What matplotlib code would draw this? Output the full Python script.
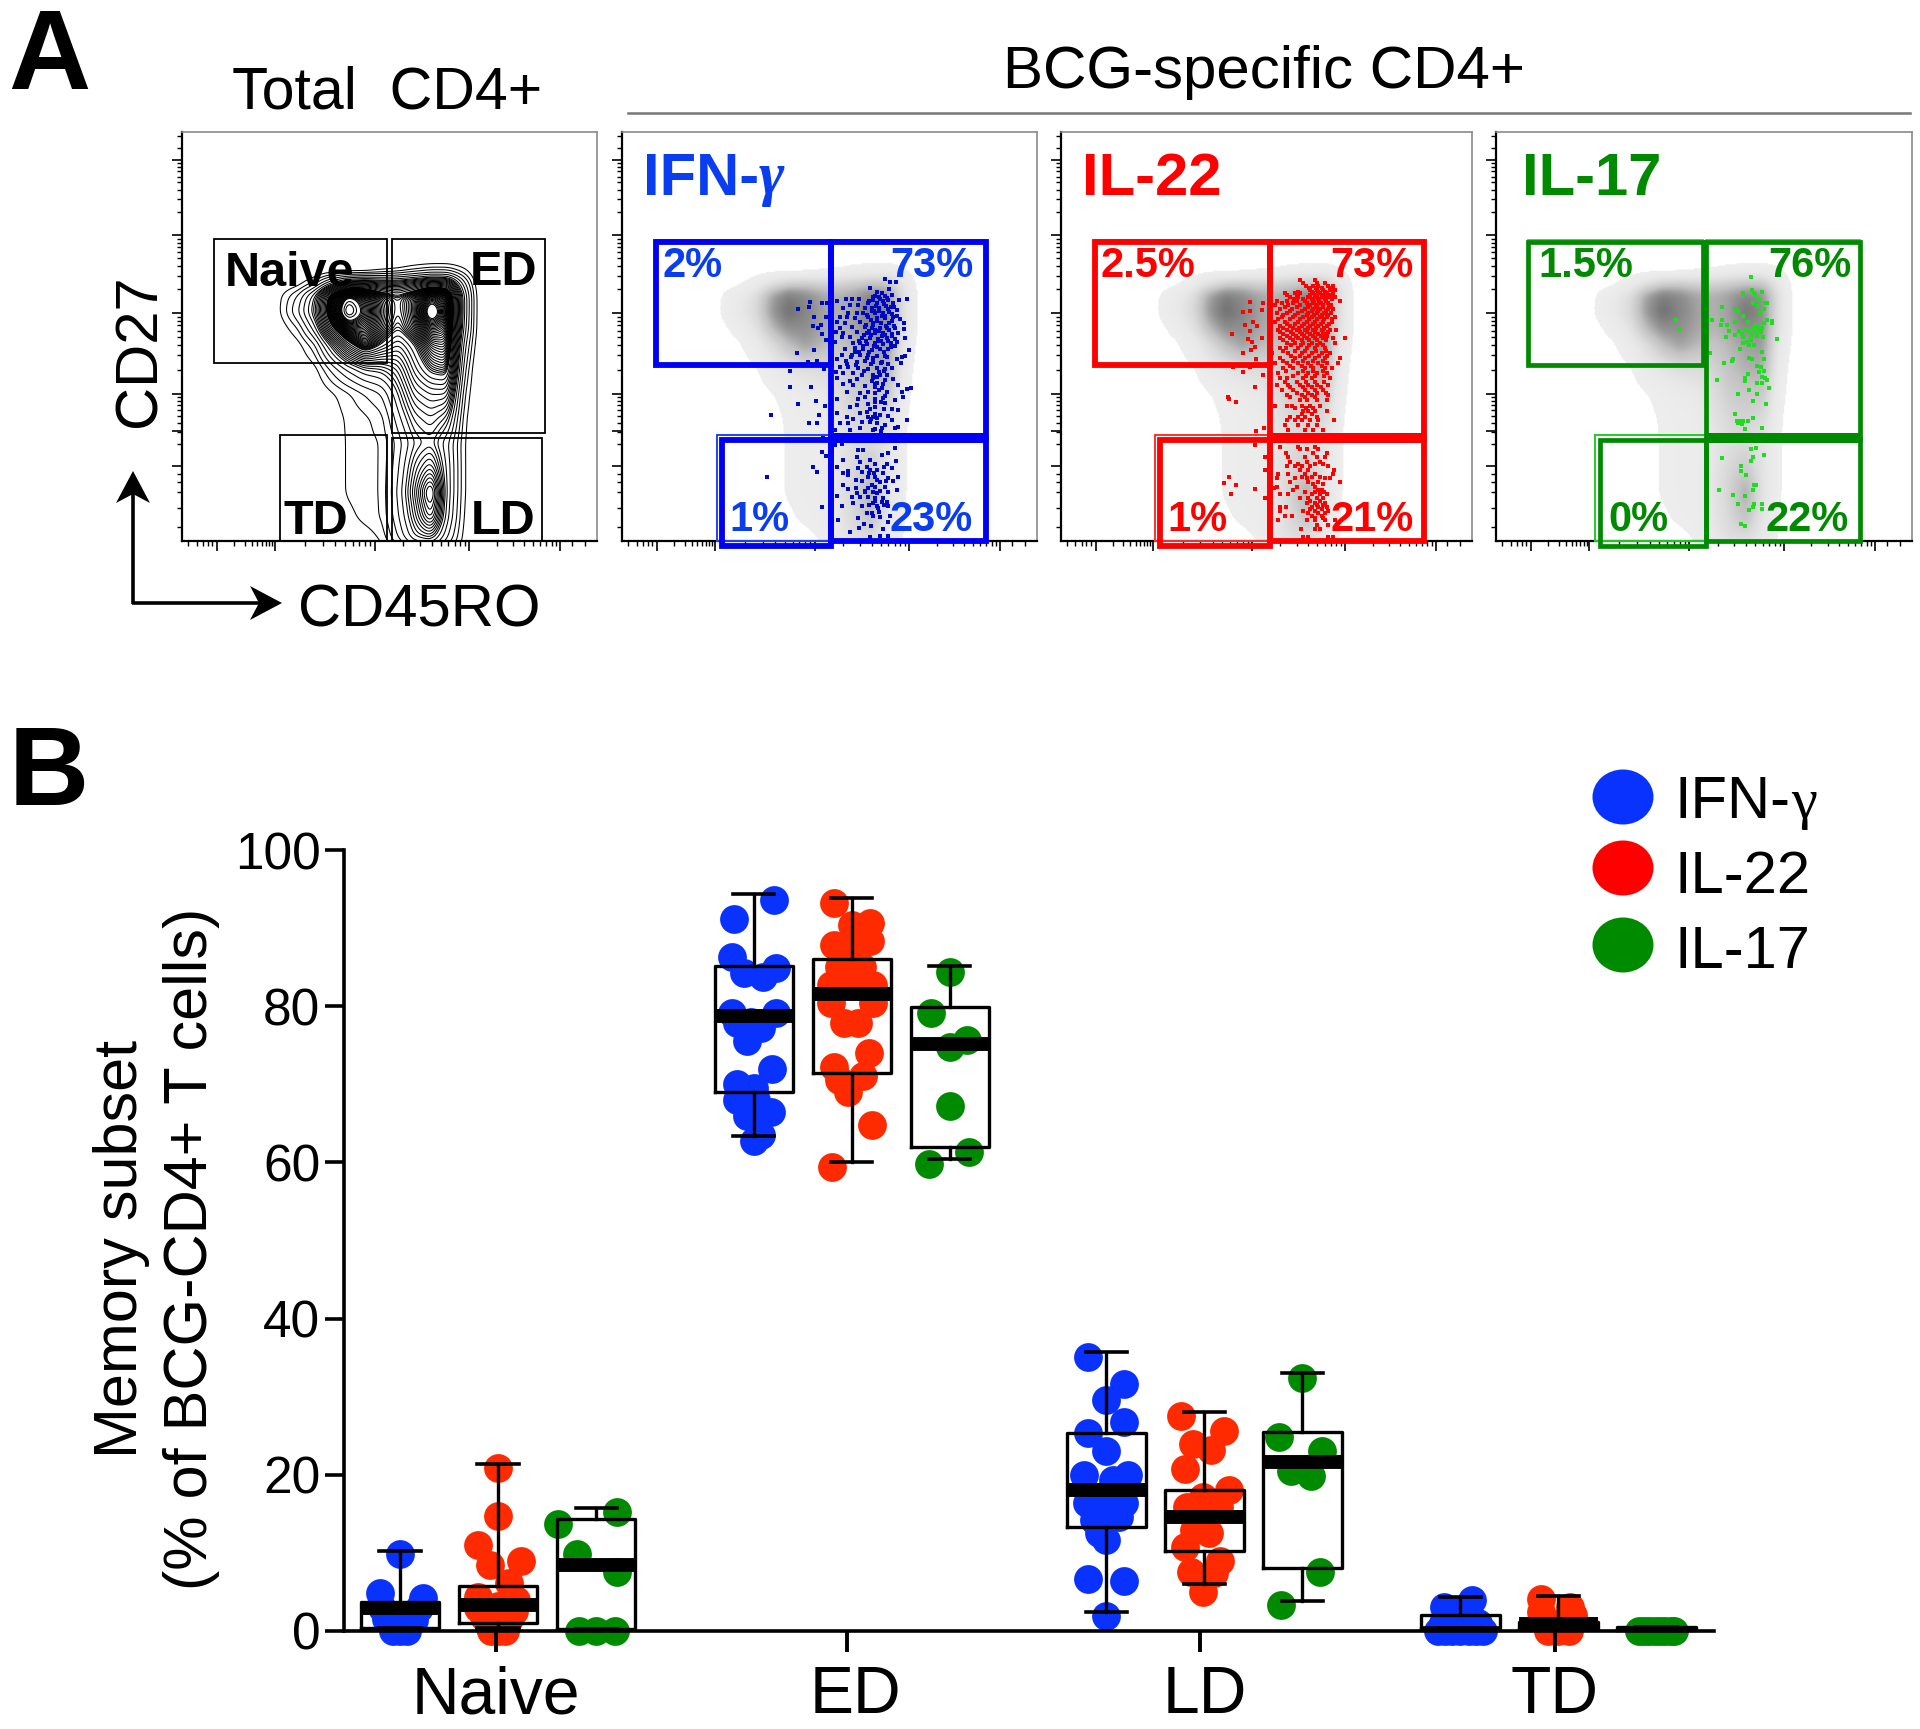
import numpy as np
import matplotlib
matplotlib.use('Agg')
import matplotlib.pyplot as plt
from matplotlib.patches import Rectangle, Ellipse, Polygon
from matplotlib.transforms import ScaledTranslation

plt.rcParams['font.family'] = ['Liberation Sans', 'DejaVu Sans']

W, H = 1920, 1729
DPI = 100

# ---------------- Panel B data ----------------
groups = ['Naive', 'ED', 'LD', 'TD']
series = ['IFN-γ', 'IL-22', 'IL-17']
y_ticks = [0, 20, 40, 60, 80, 100]

# (horizontal jitter, percent)
naive_ifn = [(0, 9.9), (-.056, 4.9), (.064, 4.2), (-.05, 3), (.055, 3), (-.03, 2), (.03, 2), (-.04, 1.5), (.04, 1.4), (-.02, .8), (.02, .8), (-.02, 0), (0, 0), (.02, 0)]
naive_il22 = [(0, 20.9), (0, 14.7), (-.057, 11), (-.023, 8.4), (.065, 8.9), (.03, 6.1), (-.057, 4.4), (.05, 4), (-.058, 3), (0, 3.2), (.045, 2.6), (-.04, 1.8), (.03, 1.5), (-.025, .6), (.015, .6), (-.02, 0), (0, 0), (.02, 0)]
naive_il17 = [(.059, 15.2), (-.108, 13.7), (-.054, 9.8), (.059, 7.5), (-.05, 0), (0, 0), (.054, 0)]
ed_ifn = [(.056, 93.6), (-.055, 91.2), (-.062, 86.3), (.062, 84.9), (-.027, 84.2), (.027, 83.8), (-.062, 79.1), (.062, 79.1), (-.048, 77.8), (.02, 77.2), (-.018, 75.6), (-.007, 78), (.052, 72), (-.048, 70.1), (0, 69.5), (-.048, 68), (.048, 66.5), (-.02, 65.9), (.02, 63.5), (0, 62.7), (.007, 68)]
ed_il22 = [(-.051, 93.2), (.052, 90.6), (0, 90.4), (.052, 88.3), (-.051, 87.8), (0, 88), (-.037, 85), (.03, 85), (0, 85), (-.058, 82.7), (.059, 82.7), (-.01, 82.7), (-.058, 80.4), (.059, 80.4), (-.023, 77.8), (.018, 77.8), (.05, 74), (-.051, 72.2), (.032, 71), (-.037, 70.5), (-.01, 69), (.056, 64.8), (-.055, 59.4)]
ed_il17 = [(0, 84.4), (-.052, 79.1), (.048, 75.7), (0, 74.8), (0, 67.2), (.055, 61.3), (-.058, 59.8)]
ld_ifn = [(-.053, 35.1), (.05, 31.6), (0, 29.6), (.05, 26.7), (-.053, 25.4), (0, 23), (-.063, 20), (.06, 20), (.02, 19.3), (-.055, 16.4), (.05, 16.4), (0, 16.8), (-.035, 14.2), (.035, 14.6), (0, 14.6), (-.022, 12.5), (0, 11.7), (-.053, 6.7), (.05, 6.4), (0, 1.9)]
ld_il22 = [(-.066, 27.5), (.056, 25.6), (-.033, 24), (.02, 23.2), (-.056, 20.7), (.07, 18.1), (-.005, 17.2), (-.05, 15.9), (.04, 15.9), (-.005, 14.4), (-.03, 12.9), (.014, 12.6), (-.056, 10.8), (.045, 8.9), (-.037, 7.6), (.027, 7.4), (-.005, 5)]
ld_il17 = [(0, 32.4), (-.066, 24.9), (.056, 23), (-.032, 20.5), (.023, 19.8), (.05, 7.5), (-.06, 3.3)]
td_ifn = [(.032, 4), (-.047, 3.1), (0, 2.5), (-.065, 0), (-.045, 0), (-.025, 0), (0, 0), (.025, 0), (.045, 0), (.065, 0), (-.05, 1), (.05, 1)]
td_il22 = [(-.05, 4.1), (.034, 3.1), (-.05, 2.4), (.04, 2), (-.03, 0), (0, 0), (.03, 0), (-.02, 1), (.02, 1)]
td_il17 = [(-.05, 0), (-.035, 0), (-.02, 0), (-.005, 0), (.01, 0), (.025, 0), (.04, 0), (.05, 0)]
dot_sets = [naive_ifn, naive_il22, naive_il17, ed_ifn, ed_il22, ed_il17,
            ld_ifn, ld_il22, ld_il17, td_ifn, td_il22, td_il17]

# whisker low, box low, median, box high, whisker high
box_low = [.4, 1.06, .3, 69.0, 71.5, 62, 13.3, 10.2, 8.1, .35, .3, .1]
box_med = [2.9, 3.3, 8.4, 78.7, 81.5, 75.2, 18.1, 14.6, 21.7, .35, .9, .3]
box_high = [3.75, 5.7, 14.3, 85.2, 86.0, 79.9, 25.4, 18.0, 25.5, 2, 1.1, .5]
whisk_low = [.4, .4, .3, 63.4, 60.0, 60.4, 2.4, 6.0, 3.8, .35, .3, .1]
whisk_high = [10.3, 21.4, 15.8, 94.4, 93.9, 85.1, 35.7, 28.1, 33, 4.4, 4.5, .5]

# ---------------- Panel A data ----------------
# hand-read population density over the CD45RO / CD27 plot area (percent of plot)
dens_x = [18, 22, 24, 28, 32, 36, 40, 44, 48, 52, 56, 60, 64, 68, 71, 75]
dens_y = [-2, 1, 6, 12, 18, 24, 30, 36, 42, 48, 52, 56, 60, 63, 66, 69]
dens = [
 [0, 0, 0, 0, 0, 0, 0, 0, .3, 1.0, 1.8, 1.8, 1.0, .2, 0, 0],
 [0, 0, 0, 0, 0, 0, 0, .2, .6, 1.8, 3.2, 3.6, 1.8, .3, 0, 0],
 [0, 0, 0, 0, 0, 0, .3, .7, .9, 2.2, 3.8, 5.6, 2.4, .4, 0, 0],
 [0, 0, 0, 0, 0, 0, .6, .8, .9, 2.4, 4.2, 6.6, 2.6, .5, 0, 0],
 [0, 0, 0, 0, 0, 0, .6, .8, .9, 2.2, 3.8, 4.8, 2.6, .5, 0, 0],
 [0, 0, 0, 0, 0, 0, .6, .8, .9, 2.0, 3.2, 3.6, 2.4, .5, 0, 0],
 [0, 0, 0, 0, 0, .2, .6, .8, 1.1, 2.6, 3.8, 4.2, 3.6, .6, 0, 0],
 [0, 0, 0, 0, 0, .4, .8, 1.3, 1.8, 3.2, 4.6, 5.0, 5.0, .9, 0, 0],
 [0, 0, 0, 0, .3, 1.4, 2.4, 3.2, 3.4, 4.0, 5.4, 6.2, 6.4, 1.4, 0, 0],
 [0, 0, 0, .3, 1.2, 3.4, 5.6, 7.0, 6.0, 5.2, 6.0, 7.0, 7.2, 2.0, .2, 0],
 [0, 0, .2, .9, 2.6, 5.8, 7.8, 7.8, 6.8, 6.0, 6.8, 8.0, 7.6, 2.6, .3, 0],
 [0, .1, .6, 1.8, 3.6, 7.2, 9.8, 8.4, 7.0, 6.2, 7.0, 9.4, 7.8, 2.8, .3, 0],
 [0, .1, .5, 1.4, 3.2, 6.8, 8.8, 8.0, 6.8, 6.2, 7.0, 8.2, 7.6, 2.8, .3, 0],
 [0, 0, 0, .2, 1.0, 2.8, 4.2, 4.6, 4.2, 4.2, 4.6, 5.2, 5.0, 2.0, .2, 0],
 [0, 0, 0, 0, 0, 0, 0, 0, .3, .5, .9, 1.2, 1.2, .6, 0, 0],
 [0, 0, 0, 0, 0, 0, 0, 0, 0, 0, 0, 0, 0, 0, 0, 0],
]

ifn_x_read = [115,150,148,185,163,158,183,175,187,197,110,162,172,143,192,90,90,153,115,168,196,33,177,148,172,187,197,158,172,22,187,190,197,210,200,
 375,390,407,330,388,352,365,345,375,395,258,275,297,230,418,442,340,360,385,270,295,325,350,372,400,250,315,335,358,385,410,265,290,310,345,368,395,240,262,285,325,350,375,400,420,230,255,300,340,362,388,432,240,275,315,335,360,380,405,432,228,250,290,320,345,370,395,415,245,270,305,330,355,380,405,435,225,280,300,320,345,368,392,410,255,285,310,335,360,385,447,245,275,300,325,350,375,425,435,232,258,290,315,340,365,385,422,240,265,295,325,350,375,395,228,250,280,305,340,360,380,230,270,290,335,350,375,400,250,280,315,345,365,415,262,300,325,345,380,452,440,425,230,295,315,345,370,405,430,270,290,325,345,375,395,415,230,300,320,345,385,260,278,325,360,395,240,265,305,330,350,375,415,442,225,270,300,340,365,405,
 225,245,295,310,365,385,405,290,330,408,248,300,345,230,380,395,295,330,350,265,250,265,305,370,415,325,345,385,288,305,360,400,335,345,250,265,288,325,375,410,290,315,350,385,230,275,300,325,345,370,280,340,380,245,305,355,385,320,340,360,295,390,235,385,270,297,312,333,370,330,360,383,
 338,358,382,328,348,368,392,336,356,378,402,322,342,366,388,412,332,352,376,396,318,338,358,378,402,326,346,366,388,312,332,354,374,396,296,318,342,362,384,404,286,308,328,352,372,394,272,298,320,340,362,380,412,262,288,312,332,356,372,338,352,368,344,358,374,316,346,362,330,372,338,352,332,346,362,322,342,372,328,352,378,316,338,360,346,366,326,350,372,336,358]
ifn_y_read = [147,127,142,130,170,198,195,205,222,240,280,270,302,307,327,332,380,380,432,423,437,465,465,490,490,575,588,622,636,651,741,533,170,135,130,
 57,65,65,85,88,95,100,108,108,105,118,118,118,122,120,118,120,118,120,135,135,130,130,132,130,145,145,145,145,148,150,158,160,160,160,160,162,172,172,175,172,175,175,172,178,185,188,185,188,190,188,190,205,200,200,205,205,205,205,208,215,218,215,218,220,220,222,220,232,232,235,235,238,235,238,235,245,248,250,252,250,252,250,245,268,265,268,270,268,268,270,285,285,285,285,288,288,290,288,298,302,305,302,305,305,312,310,320,322,325,328,325,328,325,335,340,340,345,345,345,345,355,362,358,362,368,360,358,372,375,378,382,385,375,395,400,395,400,395,383,388,397,417,418,412,418,415,420,412,440,435,432,440,430,448,450,460,458,455,462,468,470,478,470,465,480,490,490,485,485,490,495,500,480,510,510,505,510,505,505,
 555,552,570,570,585,578,565,590,600,602,600,605,612,622,612,625,625,630,630,632,640,645,635,640,650,650,650,655,660,662,665,662,675,680,675,688,685,685,680,690,700,695,700,695,708,710,710,712,715,715,730,730,725,738,738,745,738,760,768,772,773,768,780,785,817,805,793,798,808,832,828,828,
 112,110,113,124,138,122,140,152,154,137,141,166,153,167,155,167,181,182,168,183,196,194,212,197,197,212,211,228,211,226,226,242,226,228,243,244,258,242,243,258,276,258,276,260,277,260,292,276,293,294,310,292,296,312,314,332,312,335,332,353,352,372,371,390,408,410,426,425,446,448,472,475,478,508,512,620,640,620,640,660,662,692,695,692,723,725,735,738,735,758,755]

il22_rows = {60: [300,345], 68: [310,350,375], 78: [318,340,355,385,400], 90: [330,350,370,390,405], 100: [255,285,300,340,360,380,400],
 112: [270,295,325,345,365,385,405], 122: [230,260,290,315,340,358,378,420], 135: [225,265,300,330,350,370,392], 148: [240,275,315,340,360,385,400],
 160: [232,262,295,325,350,372,392], 172: [245,280,310,335,360,380,405], 185: [225,255,295,320,345,370,395], 198: [240,270,305,330,355,380],
 210: [235,260,290,315,340,365,390,408], 222: [250,280,305,330,355,375], 235: [240,270,295,320,345,370,400,435], 248: [260,285,310,335,360,405],
 265: [240,258,295,320,345,375], 280: [215,265,305,335,365,390], 295: [240,285,315,345,375,420], 310: [225,262,295,325,355,380,415],
 325: [250,280,315,340,375,395], 340: [235,295,325,350,380], 355: [240,262,310,335,390], 375: [230,265,300,325,350,385], 390: [245,280,315,345,370],
 405: [260,305,335,385], 420: [300,320,350,380], 437: [225,262,275,305,330,360], 452: [310,325,345,380], 470: [270,295,315,350],
 480: [262,285,305,330,355,402], 495: [255,295,325,352], 510: [265,315,340,370], 560: [240,295,345], 568: [300,320,355], 580: [258,340,380],
 592: [265,315,350,375], 605: [270,320,360], 618: [260,285,305,330,385], 630: [300,325,402], 642: [235,265,315,345,400], 655: [230,285,320,375,390],
 665: [270,325,355,420], 680: [230,290,345], 690: [280,355,365], 703: [240,265,335,360,380], 715: [300,325,350,370], 728: [320,345,375],
 740: [240,258,335,355,380], 752: [240,310,345,385], 768: [255,275,335,365], 780: [235,320,345,375,405], 795: [350,385], 808: [302,345,360],
 830: [310,325,385,400],
 # second reading, between the rows above
 84: [328,348,366,392], 95: [295,335,355,375,398], 106: [262,290,330,352,372,392], 117: [282,308,335,355,375,395], 129: [245,280,322,342,362,385],
 141: [255,290,325,348,368,388], 154: [270,305,335,355,378], 166: [250,285,320,342,365,385], 178: [235,270,300,328,352,372,395], 191: [262,285,312,338,362,388],
 204: [250,280,298,325,348,372], 216: [240,272,300,322,345,368,385], 228: [262,288,312,340,362,382], 241: [250,278,305,328,352,378], 256: [272,302,328,352,368],
 272: [250,285,315,348,378], 288: [272,300,328,358,382], 303: [248,278,308,340,368], 318: [270,305,332,365], 333: [258,310,340,368], 348: [280,318,345,372],
 366: [255,290,318,345,372], 382: [270,308,335,362], 398: [290,325,352,378], 412: [270,315,345], 445: [285,318,338], 462: [305,335],
 612: [295,345,368], 650: [305,335,360], 672: [340,368], 696: [315,345,372], 722: [330,360], 734: [350,368], 746: [330,365], 760: [325,355,375], 774: [345,368]}
il22_x_left = [130,150,150,190,185,160,135,172,150,97,145,187,157,165,152,130,168,100,150,130,190,165,83,88,107,193,168,165,87,73,107,165,93,195,195,195,222]
il22_y_left = [155,127,152,130,150,185,195,197,212,222,237,235,245,262,270,280,298,322,322,337,345,380,412,418,427,505,512,556,650,670,675,688,703,715,630,590,685]

il17_x_read = [333,335,310,343,367,345,358,338,375,382,353,247,285,372,295,360,310,217,247,285,323,372,382,397,397,242,262,348,340,355,367,266,298,315,328,348,362,285,305,335,350,257,310,368,332,411,310,320,328,343,300,367,210,328,336,372,280,275,252,352,362,372,357,324,367,375,315,315,232,382,352,367,387,328,295,352,338,377,285,338,325,290,300,310,295,305,367,314,348,333,338,372,247,334,304,304,319,343,349,338,237,280,314,295,343,367,338,328,367,304,314,107,117]
il17_y_read = [52,90,100,98,95,105,120,128,128,128,138,142,147,147,155,160,167,180,180,185,185,190,180,183,190,195,195,195,205,207,205,213,213,210,212,215,215,225,222,225,228,232,232,232,240,237,248,245,255,255,266,275,280,295,298,298,298,303,308,317,322,333,337,342,350,355,355,362,360,360,370,370,384,390,403,403,423,432,461,474,482,482,482,483,490,492,503,508,563,566,590,585,594,604,618,632,646,675,675,689,689,704,708,732,732,732,741,751,746,793,798,180,208]

# ---------------- helpers ----------------
fig = plt.figure(figsize=(W / DPI, H / DPI), dpi=DPI, facecolor='white')


def pxrect(l, t, r, b):
    return [l / W, 1 - b / H, (r - l) / W, (b - t) / H]


def smooth_grid():
    xf = np.linspace(dens_x[0], dens_x[-1], 230)
    yf = np.linspace(dens_y[0], dens_y[-1], 230)
    g = np.array(dens, float)
    a = np.array([np.interp(xf, dens_x, row) for row in g])
    b = np.array([np.interp(yf, dens_y, col) for col in a.T]).T
    t = np.arange(-9, 10)
    k = np.exp(-t**2 / (2 * 3.2**2))
    k /= k.sum()
    pad = 9
    c = np.pad(b, pad, mode='edge')
    c = np.apply_along_axis(lambda v: np.convolve(v, k, mode='same'), 0, c)
    c = np.apply_along_axis(lambda v: np.convolve(v, k, mode='same'), 1, c)
    return xf, yf, c[pad:-pad, pad:-pad]


XF, YF, ZF = smooth_grid()


def style_flow(ax):
    ax.set_xlim(0, 100)
    ax.set_ylim(0, 100)
    for s in ('top', 'right'):
        ax.spines[s].set_color('#8a8a8a')
        ax.spines[s].set_linewidth(1.2)
    for s in ('left', 'bottom'):
        ax.spines[s].set_color('black')
        ax.spines[s].set_linewidth(1.6)
    xM = [8.4, 22.4, 46.5, 69.2, 91.2]
    yM = [18.4, 35.9, 55.8, 74.8, 93.2]
    dec = np.log10(np.arange(2, 10))
    xm = [lo + d * (hi - lo) for lo, hi in zip(xM[:-1], xM[1:]) for d in dec] + [1.5, 3.5, 5, 6.2, 7.2, 94, 97]
    ym = [lo + d * (hi - lo) for lo, hi in zip(yM[:-1], yM[1:]) for d in dec] + [3.5, 8, 12, 14.5, 16.5, 96, 99]
    ax.set_xticks(xM)
    ax.set_yticks(yM + [26.9])
    ax.set_xticks(xm, minor=True)
    ax.set_yticks(ym, minor=True)
    ax.tick_params(which='major', length=7, width=1.2, labelbottom=False, labelleft=False)
    ax.tick_params(which='minor', length=3.5, width=1)


def gray_layer(ax):
    rgba = np.zeros(ZF.shape + (4,))
    g = np.interp(ZF, [.45, .7, 2, 3.5, 5.5, 7.5, 9.5], [.93, .93, .91, .86, .76, .58, .45])
    rgba[..., 0] = rgba[..., 1] = rgba[..., 2] = g
    rgba[..., 3] = (ZF > .45).astype(float)
    ax.imshow(rgba, extent=(XF[0], XF[-1], YF[0], YF[-1]), origin='lower', aspect='auto', interpolation='bilinear', zorder=1)
    ax.set_xlim(0, 100)
    ax.set_ylim(0, 100)


def gates(ax, col, lw, tl, tr, bl, y_top, y_mid, y_low, fade):
    for x0, x1, y0, y1 in [(tl[0], tl[1], y_low, y_top), (tr[0], tr[1], y_mid, y_top),
                           (bl[0], bl[1], -1.2, y_mid - .4), (tr[0], tr[1], 0, y_mid)]:
        ax.add_patch(Rectangle((x0, y0), x1 - x0, y1 - y0, fill=False, ec=col, lw=lw, clip_on=False, zorder=4))
    ax.add_patch(Rectangle((tr[0], y_mid - 1.1), tr[1] - tr[0], 2.4, fc=col, ec='none', clip_on=False, zorder=4))
    ax.add_patch(Rectangle((bl[0] - 1.2, 0), bl[1] - bl[0] + 1.2, y_mid + 1.0, fill=False, ec=fade, lw=1.4, clip_on=False, zorder=3))
    ax.add_patch(Rectangle((tl[0], y_low), tl[1] - tl[0], y_top + .5 - y_low, fill=False, ec=fade, lw=1.2, clip_on=False, zorder=3))
    ax.add_patch(Rectangle((tr[0], y_mid), tr[1] - tr[0], y_top + .5 - y_mid, fill=False, ec=fade, lw=1.2, clip_on=False, zorder=3))


# ---------------- Panel A ----------------
P_TOP, P_BOT = 132, 541
ax1 = fig.add_axes(pxrect(182, P_TOP, 597, P_BOT))
lv = np.concatenate([[.5, .9, 1.3, 1.8, 2.3, 2.8], np.linspace(3.2, 6, 12), np.linspace(6.1, 8.6, 30), [8.9, 9.1, 9.3]])
ax1.contour(XF, YF, ZF, levels=lv, colors='black', linewidths=.75, zorder=2)
style_flow(ax1)
for x0, x1, y0, y1 in [(7.6, 49.4, 43.5, 73.9), (50.6, 87.4, 26.4, 73.9), (23.5, 49.4, 0, 25.8), (50.6, 86.8, 0, 25.2)]:
    ax1.add_patch(Rectangle((x0, y0), x1 - x0, y1 - y0, fill=False, ec='black', lw=1.3, zorder=3))

ax2 = fig.add_axes(pxrect(622, P_TOP, 1037, P_BOT))
gray_layer(ax2)
style_flow(ax2)
ax2.scatter((760 + np.array(ifn_x_read) / 3 - 622) / 415 * 100, (P_BOT - 260 - np.array(ifn_y_read) / 3) / 409 * 100,
            s=7, marker='s', c='#0008C8', linewidths=0, zorder=2, clip_on=False)
gates(ax2, '#0000F5', 4.2, (8.2, 50.3), (50.3, 87.6), (24, 50.3), 73, 25, 43, '#2040FF')

ax3 = fig.add_axes(pxrect(1061, P_TOP, 1472, P_BOT))
gray_layer(ax3)
style_flow(ax3)
rows_x = [x for yy, xs in il22_rows.items() for x in xs] + il22_x_left
rows_y = [yy for yy, xs in il22_rows.items() for x in xs] + il22_y_left
ax3.scatter((1200 + np.array(rows_x) / 3 - 1061) / 411 * 100, (P_BOT - 260 - np.array(rows_y) / 3) / 409 * 100,
            s=11, marker='s', c='#FF0000', linewidths=0, zorder=2, clip_on=False)
gates(ax3, '#FF0000', 4.2, (8.3, 50.9), (50.9, 88.4), (24, 50.9), 73, 25, 43, '#FF3030')

ax4 = fig.add_axes(pxrect(1496, P_TOP, 1912, P_BOT))
gray_layer(ax4)
style_flow(ax4)
ax4.scatter((1640 + np.array(il17_x_read) / 3 - 1496) / 416 * 100, (P_BOT - 260 - np.array(il17_y_read) / 3) / 409 * 100,
            s=7, marker='s', c='#20DC20', linewidths=0, zorder=2, clip_on=False)
gates(ax4, '#008A00', 3.4, (7.8, 49.7), (50.6, 87.4), (25, 50.6), 73.2, 25, 43.1, '#22CC22')

# ---------------- Panel B ----------------
axb = fig.add_axes(pxrect(344, 850, 1714, 1631))
colors = ['#0A32FF', '#FF2A00', '#008A00']
centers = [1.007, 2.01, 3.01, 4.014]
slot = [-.278, 0, .278]
pos = [c + s for c in centers for s in slot]

stats = [dict(med=m, q1=l, q3=h, whislo=wl, whishi=wh, fliers=[])
         for m, l, h, wl, wh in zip(box_med, box_low, box_high, whisk_low, whisk_high)]
for i, pts in enumerate(dot_sets):
    d = np.array(pts)
    axb.scatter(pos[i] + d[:, 0], d[:, 1], s=430, color=colors[i % 3], linewidths=0, zorder=1, clip_on=False)
art = axb.bxp(stats, positions=pos, widths=.222, capwidths=.117, showfliers=False, manage_ticks=False, zorder=3,
              boxprops=dict(color='black', lw=2.4), whiskerprops=dict(color='black', lw=2.4),
              capprops=dict(color='black', lw=2.6), medianprops=dict(color='black', lw=10, solid_capstyle='butt'))
art['medians'][9].set_linewidth(2.6)
art['medians'][11].set_linewidth(3.2)
for a in art['boxes'] + art['whiskers'] + art['caps'] + art['medians']:
    a.set_clip_on(False)
axb.set_xlim(.57, 4.455)
axb.set_ylim(0, 100)
axb.set_xticks([1, 1.997, 2.997, 4.003])
axb.set_xticklabels(groups, fontsize=47.5)
axb.set_yticks(y_ticks)
axb.set_yticklabels([str(v) for v in y_ticks], fontsize=37)
axb.tick_params(axis='y', length=14, width=2.6, pad=3)
axb.tick_params(axis='x', length=15, width=2.8, pad=9.5)
for lab, dx in zip(axb.get_xticklabels(), [0, 8.5, 5, 0]):
    lab.set_transform(lab.get_transform() + ScaledTranslation(dx / DPI, 0, fig.dpi_scale_trans))
for s in ('top', 'right'):
    axb.spines[s].set_visible(False)
for s in ('left', 'bottom'):
    axb.spines[s].set_linewidth(2.6)
    axb.spines[s].set_zorder(4)
axb.patch.set_alpha(0)

# ---------------- overlay text ----------------
ov = fig.add_axes([0, 0, 1, 1], zorder=10)
ov.set_xlim(0, W)
ov.set_ylim(H, 0)
ov.axis('off')
ov.patch.set_alpha(0)


def T(x, y, s, size, ha='left', va='center', color='black', weight='normal', **kw):
    return ov.text(x, y, s, fontsize=size, ha=ha, va=va, color=color, fontweight=weight, **kw)


T(49, 60, 'A', 82, ha='center', weight='bold')
T(49, 776, 'B', 80, ha='center', weight='bold')
T(387, 93, 'Total  CD4+', 42.5, ha='center')
T(1264, 72, 'BCG-specific CD4+', 43.3, ha='center')
ov.plot([628, 1910], [113, 113], color='#777777', lw=1.8)
T(140, 351, 'CD27', 43, ha='center', rotation=90)
T(298, 611, 'CD45RO', 43)
# arrows: shaft plus barbed head
ov.plot([133, 133], [604, 490], color='black', lw=2.6, solid_capstyle='butt')
ov.plot([132, 265], [603, 603], color='black', lw=2.6, solid_capstyle='butt')
ov.add_patch(Polygon([(133, 471), (150, 503), (133, 494), (116, 503)], fc='black', ec='none'))
ov.add_patch(Polygon([(282, 603), (250, 620), (259, 603), (250, 586)], fc='black', ec='none'))

T(225, 273, 'Naive', 35, weight='bold')
T(537, 272, 'ED', 35, ha='right', weight='bold')
T(284, 521, 'TD', 35, weight='bold')
T(535, 521, 'LD', 35, ha='right', weight='bold')


def greek_after(txt, size, color, weight, style):
    ov.annotate('γ', xy=(1, 0), xycoords=txt, xytext=(0, 0), textcoords='offset points', va='bottom', ha='left',
                fontsize=size, color=color, fontweight=weight, family='Liberation Serif', fontstyle=style)


BLUE_T, RED_T, GREEN_T = '#0A3CF0', '#FF0000', '#008A00'
t = T(643, 179, 'IFN-', 43, color=BLUE_T, weight='bold')
greek_after(t, 44, BLUE_T, 'bold', 'italic')
T(1082, 179, 'IL-22', 43, color=RED_T, weight='bold')
T(1522, 179, 'IL-17', 43, color=GREEN_T, weight='bold')

for x, y, s, ha, c in [(662, 266, '2%', 'left', BLUE_T), (973, 266, '73%', 'right', BLUE_T), (729, 520, '1%', 'left', BLUE_T), (973, 520, '23%', 'right', BLUE_T),
                       (1101, 266, '2.5%', 'left', RED_T), (1414, 266, '73%', 'right', RED_T), (1167, 520, '1%', 'left', RED_T), (1414, 520, '21%', 'right', RED_T),
                       (1538, 266, '1.5%', 'left', GREEN_T), (1851, 266, '76%', 'right', GREEN_T), (1608, 520, '0%', 'left', GREEN_T), (1849, 520, '22%', 'right', GREEN_T)]:
    T(x, y, s, 30, ha=ha, color=c, weight='bold')

T(122, 1249, 'Memory subset', 44, ha='center', rotation=90)
T(192, 1249, '(% of BCG-CD4+ T cells)', 44, ha='center', rotation=90)

for y, col, lab in zip([797, 868, 945], ['#0A32FF', '#FF0000', '#008A00'], series):
    ov.add_patch(Ellipse((1623, y), 61, 55, fc=col, ec='none'))
t = T(1675, 802, 'IFN-', 43)
greek_after(t, 42, 'black', 'normal', 'normal')
T(1675, 877, 'IL-22', 43)
T(1675, 952, 'IL-17', 43)

fig.savefig('out.png', dpi=DPI, facecolor='white')
